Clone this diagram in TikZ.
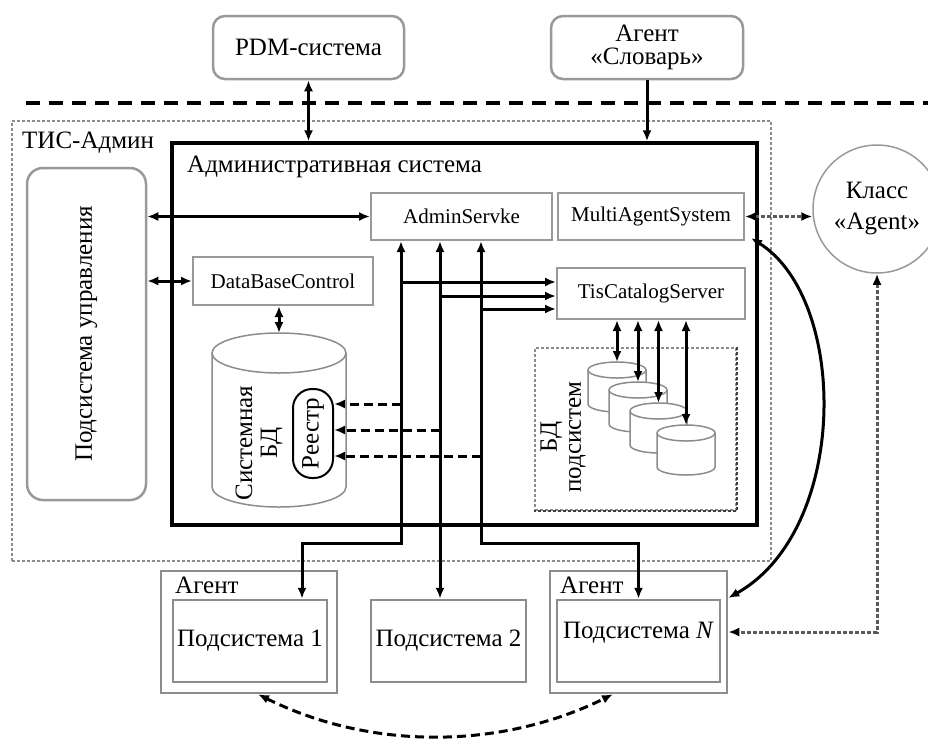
\documentclass[tikz,border=0pt]{standalone}
\usepackage{graphicx}
\usepackage{fontspec}
\setmainfont{Liberation Serif}
\usetikzlibrary{arrows.meta}

\tikzset{
  big/.style={font=\fontsize{25}{27}\selectfont},
  small/.style={font=\fontsize{21}{24}\selectfont},
  extbox/.style={draw=black!40, line width=2.5pt, rounded corners=12pt, inner sep=0pt, big},
  modbox/.style={draw=black!40, line width=2pt, fill=white, inner sep=0pt, small},
  subbox/.style={draw=black!45, line width=2.5pt, inner sep=0pt, big},
  dotbox/.style={draw=black!45, line width=2pt, dash pattern=on 3pt off 2pt, inner sep=0pt},
  link/.style={line width=3pt, black, >={Latex[length=11pt,width=9pt,color=black]}},
  dlink/.style={link, dash pattern=on 9pt off 5pt},
  glink/.style={link, draw=black!65, dash pattern=on 4pt off 2pt},
}

% cylinder: name, left, top, width, height, ry
\newcommand{\dbcyl}[6]{%
  \filldraw[draw=black!45, line width=1.5pt, fill=white]
    (#2,{-(#3)-(#6)}) -- (#2,{-(#3)-(#5)+(#6)})
    arc[start angle=180, end angle=360, x radius={(#4)/2}, y radius=#6]
    -- ({#2+#4},{-(#3)-(#6)})
    arc[start angle=0, end angle=180, x radius={(#4)/2}, y radius=#6] -- cycle;
  \draw[draw=black!45, line width=1.5pt] (#2,{-(#3)-(#6)})
    arc[start angle=180, end angle=360, x radius={(#4)/2}, y radius=#6];
  \coordinate (#1) at ({#2+(#4)/2},-#3);
}

\begin{document}
\begin{tikzpicture}[x=1pt, y=1pt]
   \useasboundingbox (0,0) rectangle (928,-742);

   % outside
   \node[extbox, minimum width=191pt, minimum height=63pt] (pdm) at (308.5,-47.5) {PDM-система};
   \node[extbox, align=center, font=\fontsize{25}{23}\selectfont,
         minimum width=192pt, minimum height=63pt] (slovar) at (647,-47.5) {Агент\\«Словарь»};
   \draw[line width=4pt, dash pattern=on 14pt off 9pt] (26,-103) -- (928,-103);

   % TIS-Admin
   \node[dotbox, minimum width=759pt, minimum height=440pt] (tis) at (391.5,-341) {};
   \node[big, anchor=base west, inner sep=0pt] (tislabel) at (22,-148) {ТИС-Админ};
   \node[extbox, rounded corners=16pt, minimum width=119pt, minimum height=332pt] (pu) at (86.5,-334)
        {\rotatebox{90}{Подсистема управления}\hspace{18pt}};

   % admin system
   \node[draw, line width=3.5pt, minimum width=585pt, minimum height=382pt, inner sep=0pt] (adm) at (464.5,-334) {};
   \node[big, anchor=base west, inner sep=0pt] (admlabel) at (187,-172) {Административная система};
   \node[modbox, minimum width=181pt, minimum height=47pt] (as)  at (461.5,-216.5) {AdminServke};
   \node[modbox, minimum width=186pt, minimum height=47pt] (mas) at (651,-216.5)   {MultiAgentSystem};
   \node[modbox, minimum width=180pt, minimum height=48pt] (dbc) at (283,-281)     {DataBaseControl};
   \node[modbox, minimum width=188pt, minimum height=51pt] (tcs) at (651,-293.5)   {TisCatalogServer};

   % system db
   \dbcyl{sysdb}{212}{333}{134}{174}{20}
   \node[big, rotate=90, align=center, font=\fontsize{25}{25}\selectfont] (syslabel) at (259,-443) {Системная\\БД};
   \node[draw, line width=2pt, rounded corners=19pt, minimum width=40pt, minimum height=89pt,
         inner sep=0pt, big] (reg) at (313,-433.5) {\rotatebox{90}{Реестр}};

   % subsystem dbs
   \node[dotbox, minimum width=201pt, minimum height=162pt] (bdp) at (635.5,-429) {};
   \draw[line width=2pt, black!75, dash pattern=on 3pt off 2pt] (bdp.north east) -- (bdp.south east) -- (bdp.south west);
   \node[big, rotate=90, align=center, font=\fontsize{25}{24}\selectfont] (bdplabel) at (563,-437) {БД\\подсистем};
   \dbcyl{c1}{588}{362}{58}{50}{8}
   \dbcyl{c2}{609}{382}{58}{50}{8}
   \dbcyl{c3}{630}{403}{57}{50}{8}
   \dbcyl{c4}{657}{425}{58}{50}{8}

   % agents
   \node[subbox, minimum width=176pt, minimum height=122pt] (ag1) at (249,-632) {};
   \node[subbox, minimum width=154pt, minimum height=82pt]  (s1)  at (250,-641) {Подсистема 1};
   \node[big, anchor=base west, inner sep=0pt] (ag1label) at (175,-593) {Агент};
   \node[subbox, minimum width=155pt, minimum height=82pt]  (s2)  at (448.5,-641) {Подсистема 2};
   \node[subbox, minimum width=177pt, minimum height=122pt] (agN) at (638.5,-632) {};
   \node[subbox, minimum width=163pt, minimum height=82pt, text height=18pt, text depth=24pt] (sN) at (638.5,-641) {Подсистема \textit{N}};
   \node[big, anchor=base west, inner sep=0pt] (agNlabel) at (560,-593) {Агент};

   \node[draw=black!40, line width=1.5pt, circle, minimum size=128pt, inner sep=0pt, align=center,
         font=\fontsize{25}{31}\selectfont] (klass) at (877,-209) {Класс\\«Agent»};

   % links
   \coordinate (b1) at (401,-543);
   \coordinate (b2) at (440,-543);
   \coordinate (b3) at (481,-543);
   \coordinate (t1) at ([yshift=11.5pt]tcs.west);
   \coordinate (t2) at ([yshift=-2.5pt]tcs.west);
   \coordinate (t3) at ([yshift=-15.5pt]tcs.west);
   \coordinate (r1) at ([yshift=29.5pt]reg.east);
   \coordinate (r2) at ([yshift=3.5pt]reg.east);
   \coordinate (r3) at ([yshift=-22.5pt]reg.east);

   \draw[link, <->] (pdm.south) -- (pdm.south |- adm.north);
   \draw[link, ->]  (slovar.south) -- (slovar.south |- adm.north);
   \draw[link, <->] (as.west -| pu.east) -- (as.west);
   \draw[link, <->] (dbc.west -| pu.east) -- (dbc.west);
   \draw[link, <->] (dbc.south -| sysdb) -- (sysdb);

   \draw[link, <->] (as.south -| b1) -- (b1) -| ([xshift=52pt]s1.north);
   \draw[link, <->] (as.south -| b2) -- (b2 |- s2.north);
   \draw[link, <->] (as.south -| b3) -- (b3) -| (sN.north);

   \draw[link, ->] (t1 -| b1) -- (t1);
   \draw[link, ->] (t2 -| b2) -- (t2);
   \draw[link, ->] (t3 -| b3) -- (t3);

   \draw[dlink, ->] (r1 -| b1) -- (r1);
   \draw[dlink, ->] (r2 -| b2) -- (r2);
   \draw[dlink, ->] (r3 -| b3) -- (r3);

   \draw[link, <->] (tcs.south -| c1) -- (c1);
   \draw[link, <->] (tcs.south -| c2) -- (c2);
   \draw[link, <->] (tcs.south -| c3) -- (c3);
   \draw[link, <->] (tcs.south -| c4) -- (c4);

   \draw[glink, <->] (mas.east) -- (klass.west |- mas.east);
   \draw[link, <->] ([xshift=6pt,yshift=3pt]mas.south east) .. controls (849,-300) and (849,-530) .. ([yshift=34pt]agN.east);
   \draw[glink, <->] (klass.south) |- (agN.east);
   \draw[dlink, <->] ([xshift=9pt]ag1.south) .. controls (370,-750) and (500,-750) .. ([xshift=-25.5pt]agN.south);
\end{tikzpicture}
\end{document}
